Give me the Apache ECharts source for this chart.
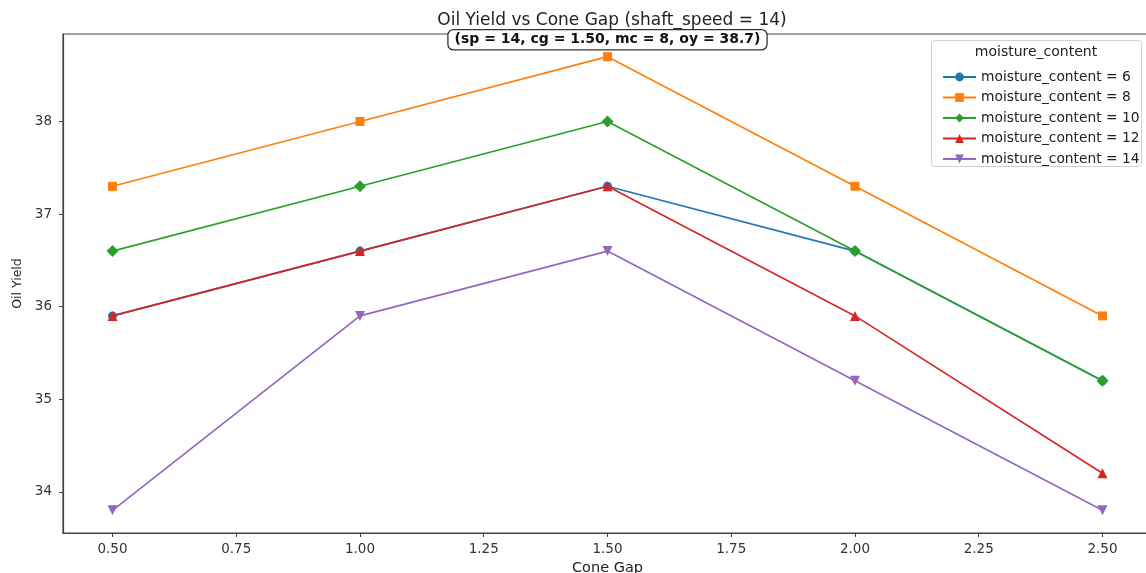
<!DOCTYPE html>
<html>
<head>
<meta charset="utf-8">
<script src="https://cdn.jsdelivr.net/npm/echarts@6/dist/echarts.min.js"></script>
<style>html,body{margin:0;padding:0;background:#fff;}#c{width:1146px;height:573px;}</style>
</head>
<body>
<div id="c"></div>
<script>
var coneGap = [0.5, 1.0, 1.5, 2.0, 2.5];
var moisture = [6, 8, 10, 12, 14];
var mc6  = [35.9, 36.6, 37.3, 36.6, 35.2];
var mc8  = [37.3, 38.0, 38.7, 37.3, 35.9];
var mc10 = [36.6, 37.3, 38.0, 36.6, 35.2];
var mc12 = [35.9, 36.6, 37.3, 35.9, 34.2];
var mc14 = [33.8, 35.9, 36.6, 35.2, 33.8];
var xTicks = [0.5, 0.75, 1.0, 1.25, 1.5, 1.75, 2.0, 2.25, 2.5];
var yTicks = [34, 35, 36, 37, 38];
var colors = ['#1f77b4', '#ff7f0e', '#2ca02c', '#d62728', '#9467bd'];
var symbols = ['circle', 'rect', 'diamond', 'triangle', 'triangle'];
var rotates = [0, 0, 0, 0, 180];
var sizes = [9, 9, 12, 10, 10];
var values = [mc6, mc8, mc10, mc12, mc14];
var best = {sp: 14, cg: 1.5, mc: 8, oy: 38.7};

var FONT = 'DejaVu Sans';
var chart = echarts.init(document.getElementById('c'));
var series = values.map(function (vals, i) {
  var s = {
    name: 'moisture_content = ' + moisture[i],
    type: 'line',
    data: vals.map(function (v, j) { return [coneGap[j], v]; }),
    symbol: symbols[i],
    symbolSize: sizes[i],
    symbolRotate: rotates[i],
    showAllSymbol: true,
    itemStyle: {color: colors[i]},
    lineStyle: {color: colors[i], width: 1.7},
    z: 2 + i,
    animation: false
  };
  if (moisture[i] === best.mc) {
    s.markPoint = {
      symbol: 'circle', symbolSize: 0,
      data: [{coord: [best.cg, best.oy]}],
      label: {
        show: true,
        formatter: '(sp = ' + best.sp + ', cg = ' + best.cg.toFixed(2) + ', mc = ' + best.mc + ', oy = ' + best.oy.toFixed(1) + ')',
        fontFamily: FONT, fontWeight: 'bold', fontSize: 14, color: '#111',
        backgroundColor: '#fff', borderColor: '#333', borderWidth: 1.3, borderRadius: 5,
        padding: [3, 6, 2, 6],
        offset: [0, -17]
      },
      z: 20
    };
  }
  return s;
});

chart.setOption({
  animation: false,
  backgroundColor: '#fff',
  title: {
    text: 'Oil Yield vs Cone Gap (shaft_speed = 14)',
    left: 607, textAlign: 'center', top: 7,
    textStyle: {fontFamily: FONT, fontSize: 17, fontWeight: 'normal', color: '#222'}
  },
  grid: {left: 63, top: 34, width: 1089, height: 499, outerBoundsMode: 'none', containLabel: false,
    show: true, borderColor: '#444', borderWidth: 1.2, backgroundColor: 'transparent'},
  xAxis: {
    type: 'value', min: 0.4, max: 2.6,
    name: 'Cone Gap', nameLocation: 'middle', nameGap: 25,
    nameTextStyle: {fontFamily: FONT, fontSize: 14.5, color: '#222'},
    axisLine: {show: true, lineStyle: {color: '#444', width: 1.2}},
    axisTick: {show: true, length: 4, lineStyle: {color: '#444'}, customValues: xTicks},
    axisLabel: {fontFamily: FONT, fontSize: 13.5, color: '#333', margin: 9, customValues: xTicks,
      formatter: function (v) { return v.toFixed(2); }},
    splitLine: {show: false}
  },
  yAxis: {
    type: 'value', min: 33.555, max: 38.945,
    name: 'Oil Yield', nameLocation: 'middle', nameGap: 39, nameRotate: 90,
    nameTextStyle: {fontFamily: FONT, fontSize: 12.5, color: '#222'},
    axisLine: {show: true, lineStyle: {color: '#444', width: 1.2}},
    axisTick: {show: true, length: 4, lineStyle: {color: '#444'}, customValues: yTicks},
    axisLabel: {fontFamily: FONT, fontSize: 13.5, color: '#333', margin: 11, customValues: yTicks,
      formatter: function (v) { return String(v); }},
    splitLine: {show: false}
  },
  legend: {
    orient: 'vertical', left: 937, top: 65, itemGap: 6.5, z: 100,
    itemWidth: 33, itemHeight: 11,
    textStyle: {fontFamily: FONT, fontSize: 13.8, color: '#222'},
    data: series.map(function (s) { return s.name; })
  },
  graphic: [
    {type: 'rect', left: 931, top: 40, z: 1, shape: {width: 210, height: 126, r: 3},
      style: {fill: 'rgba(255,255,255,0.9)', stroke: '#d0d0d0', lineWidth: 1}},
    {type: 'text', x: 1036, y: 52, z: 2,
      style: {text: 'moisture_content', font: '14px "DejaVu Sans"', fill: '#222', align: 'center', verticalAlign: 'middle'}}
  ],
  series: series
});
</script>
</body>
</html>
